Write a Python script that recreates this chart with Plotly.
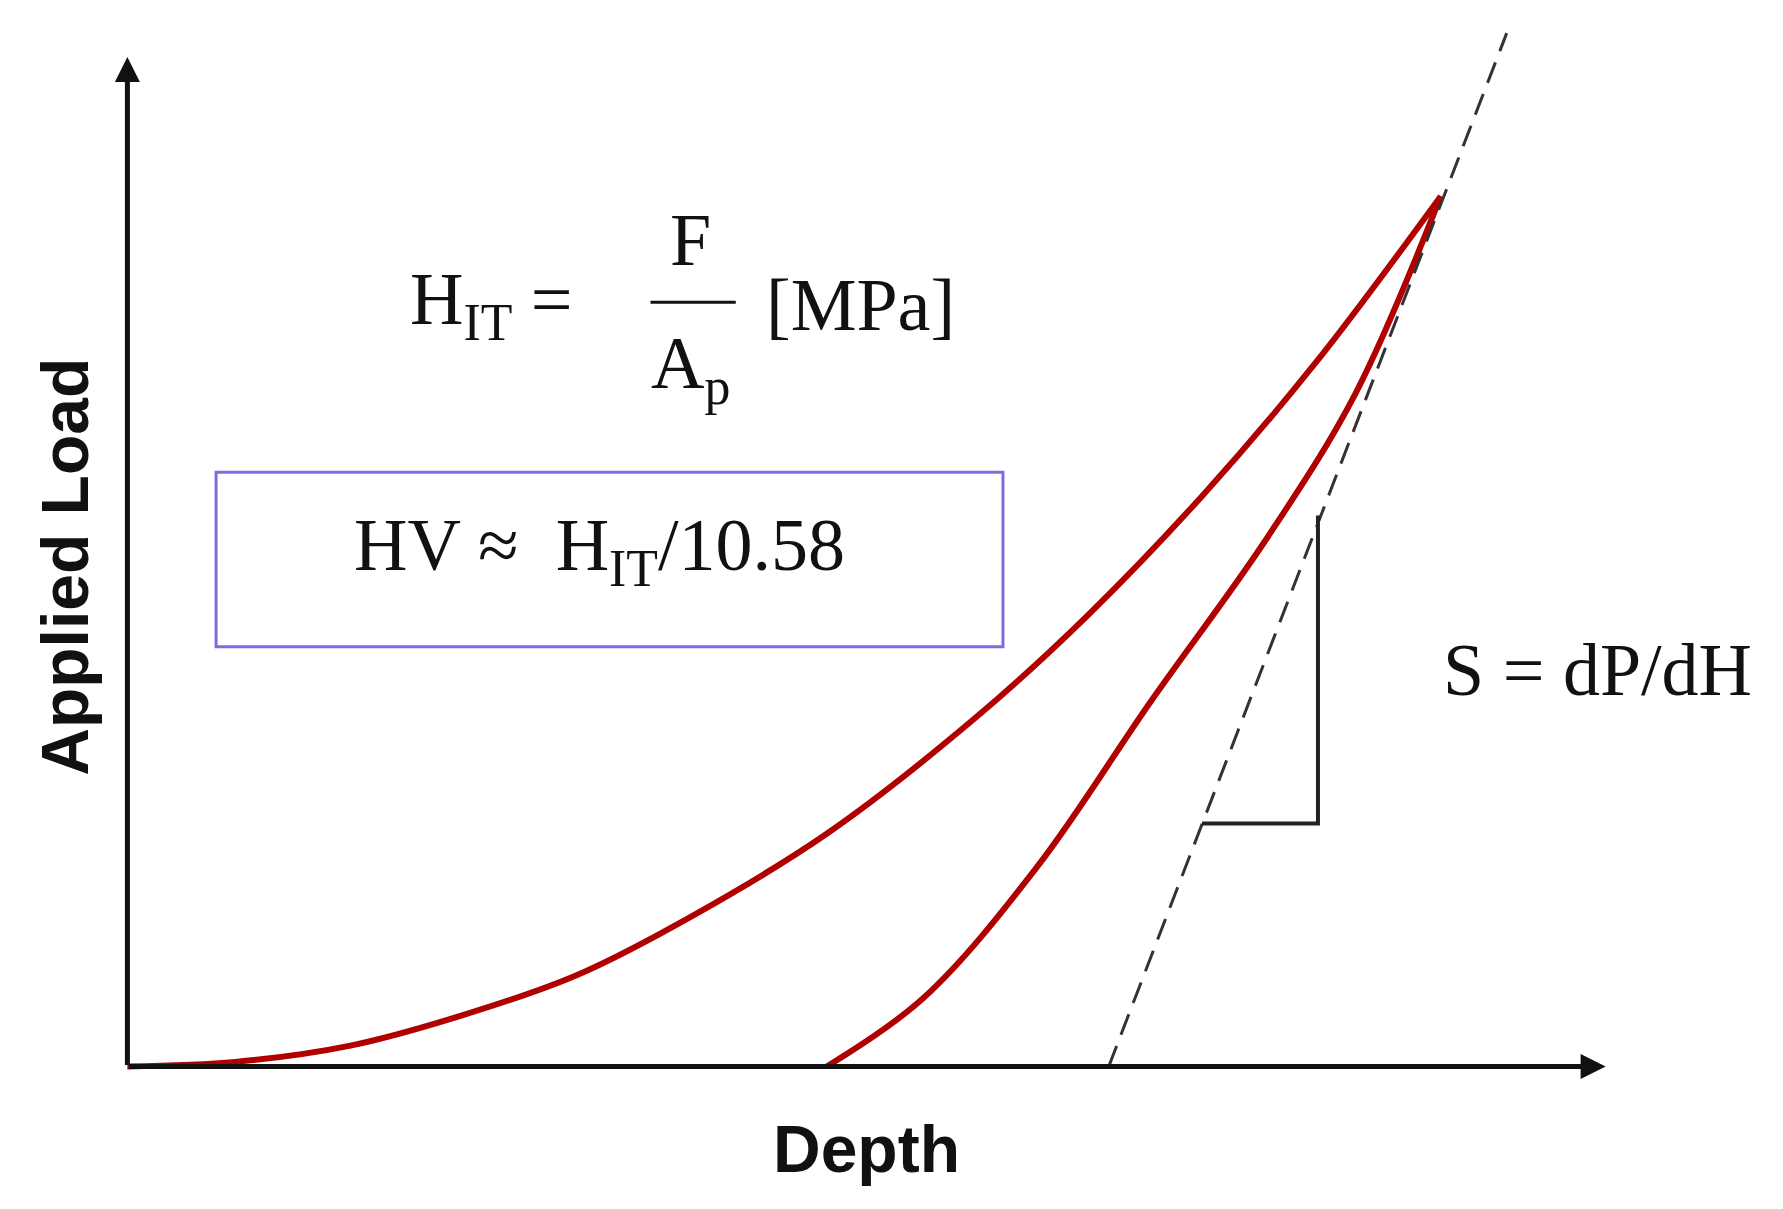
import plotly.graph_objects as go

# Schematic units: depth and load (arbitrary)
load_depth = [0, 95, 195, 295, 395, 495, 615, 745, 845, 945, 1045, 1155]
load_force = [0, 4, 18, 45, 80, 131, 204, 305, 396, 500, 617, 763]
unload_depth = [615, 700, 800, 900, 1000, 1080, 1155]
unload_force = [0, 60, 175, 320, 460, 590, 763]
tangent_depth = [863, 1213]
tangent_force = [0, 906]
tri_depth = [945, 1047, 1047]
tri_force = [213, 213, 483]

red = "#b00000"
fig = go.Figure()
fig.add_trace(go.Scatter(x=load_depth, y=load_force, mode="lines", line=dict(color=red, width=6, shape="spline")))
fig.add_trace(go.Scatter(x=unload_depth, y=unload_force, mode="lines", line=dict(color=red, width=6, shape="spline")))
fig.add_trace(go.Scatter(x=tangent_depth, y=tangent_force, mode="lines", line=dict(color="#333", width=3, dash="22px,12px")))
fig.add_trace(go.Scatter(x=tri_depth, y=tri_force, mode="lines", line=dict(color="#222", width=4)))

# axes with arrows
fig.add_annotation(x=1300, y=0, ax=0, ay=0, xref="x", yref="y", axref="x", ayref="y",
                   showarrow=True, arrowhead=2, arrowsize=1, arrowwidth=5, arrowcolor="#111", text="")
fig.add_annotation(x=0, y=885, ax=0, ay=0, xref="x", yref="y", axref="x", ayref="y",
                   showarrow=True, arrowhead=2, arrowsize=1, arrowwidth=5, arrowcolor="#111", text="")

serif = "Liberation Serif"
fs = 74
fig.add_annotation(x=320, y=668, text="H<sub>IT</sub> =", showarrow=False, font=dict(family=serif, size=fs, color="#111"))
fig.add_annotation(x=495, y=725, text="F", showarrow=False, font=dict(family=serif, size=fs, color="#111"))
fig.add_shape(type="line", x0=460, x1=535, y0=670, y1=670, line=dict(color="#111", width=3))
fig.add_annotation(x=495, y=612, text="A<sub>p</sub>", showarrow=False, font=dict(family=serif, size=fs, color="#111"))
fig.add_annotation(x=645, y=668, text="[MPa]", showarrow=False, font=dict(family=serif, size=fs, color="#111"))
fig.add_shape(type="rect", x0=78, x1=770, y0=368, y1=521, line=dict(color="#7b6fe0", width=3))
fig.add_annotation(x=415, y=452, text="HV ≈  H<sub>IT</sub>/10.58", showarrow=False, font=dict(family=serif, size=fs, color="#111"))
fig.add_annotation(x=1293, y=348, text="S = dP/dH", showarrow=False, font=dict(family=serif, size=fs, color="#111"))
fig.add_annotation(x=650, y=-72, text="<b>Depth</b>", showarrow=False, font=dict(family="Liberation Sans", size=66, color="#111"))
fig.add_annotation(x=-55, y=438, text="<b>Applied Load</b>", textangle=-90, showarrow=False,
                   font=dict(family="Liberation Sans", size=66, color="#111"))

fig.update_layout(width=1783, height=1209, margin=dict(l=0, r=0, t=0, b=0),
                  plot_bgcolor="white", paper_bgcolor="white", showlegend=False,
                  xaxis=dict(range=[-105, 1463], visible=False),
                  yaxis=dict(range=[-132, 928], visible=False))
fig.write_html("out.html")
